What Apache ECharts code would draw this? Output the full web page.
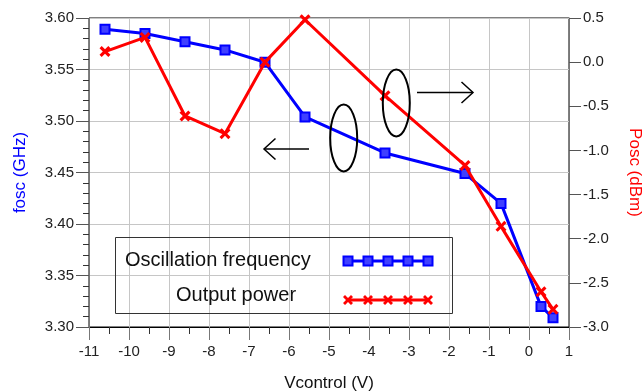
<!DOCTYPE html>
<html>
<head>
<meta charset="utf-8">
<script src="https://cdn.jsdelivr.net/npm/echarts@6/dist/echarts.min.js"></script>
<style>
  html, body { margin: 0; padding: 0; background: #fff; }
  #chart { width: 643px; height: 391px; }
</style>
</head>
<body>
<div id="chart"></div>
<script>
// control voltage (V)
const vcontrol = [-10.6, -9.6, -8.6, -7.6, -6.6, -5.6, -3.6, -1.6, -0.7, 0.3, 0.6];
// oscillation frequency (GHz)
const fosc = [3.589, 3.585, 3.577, 3.569, 3.557, 3.504, 3.469, 3.449, 3.420, 3.320, 3.309];
// output power (dBm)
const posc = [0.12, 0.28, -0.61, -0.81, 0.0, 0.48, -0.38, -1.17, -1.86, -2.60, -2.80];

const legendNames = ['Oscillation frequency', 'Output power'];

const FONT = '"Liberation Sans", Arial, sans-serif';
const BLUE = '#0000ff';
const RED = '#ff0000';
const GRIDC = '#c6c6c6';

// bold X marker
const crossPath = 'path://M2,0L5,3L8,0L10,2L7,5L10,8L8,10L5,7L2,10L0,8L3,5L0,2Z';

const chart = echarts.init(document.getElementById('chart'));

// legend sample markers (drawn as graphics, text left / sample right)
function legendSample(y, color, kind) {
  const els = [{
    type: 'line', shape: { x1: 348, y1: y, x2: 428, y2: y },
    style: { stroke: color, lineWidth: 3 }
  }];
  for (let i = 0; i < 5; i++) {
    const cx = 348 + i * 20;
    if (kind === 'rect') {
      els.push({ type: 'rect', shape: { x: cx - 4.5, y: y - 4.5, width: 9, height: 9 },
        style: { fill: '#4040ff', stroke: color, lineWidth: 2 } });
    } else {
      els.push({ type: 'polygon', shape: { points: [
          [cx - 3, y - 5], [cx, y - 2], [cx + 3, y - 5], [cx + 5, y - 3], [cx + 2, y],
          [cx + 5, y + 3], [cx + 3, y + 5], [cx, y + 2], [cx - 3, y + 5], [cx - 5, y + 3],
          [cx - 2, y], [cx - 5, y - 3]] },
        style: { fill: color } });
    }
  }
  return els;
}

const options = {
  animation: false,
  textStyle: { fontFamily: FONT },
  grid: {
    left: 89, right: 74, top: 18, bottom: 64,
    outerBoundsMode: 'none',
    show: true, borderColor: '#000', borderWidth: 1
  },
  xAxis: {
    type: 'value',
    min: -11, max: 1, interval: 1,
    name: 'Vcontrol (V)', nameLocation: 'middle', nameGap: 48,
    nameTextStyle: { fontSize: 17, color: '#111', fontFamily: FONT },
    axisLine: { onZero: false, lineStyle: { color: '#000', width: 1 } },
    axisTick: { show: true, length: 13, lineStyle: { color: '#777' } },
    minorTick: { show: true, splitNumber: 2, length: 7, lineStyle: { color: '#333' } },
    axisLabel: { fontSize: 15, color: '#222', margin: 17, fontFamily: FONT },
    splitLine: { show: true, lineStyle: { color: GRIDC, width: 1 } }
  },
  yAxis: [
    {
      type: 'value',
      min: 3.3, max: 3.6, interval: 0.05,
      name: 'fosc (GHz)', nameLocation: 'middle', nameRotate: 90, nameGap: 60,
      nameTextStyle: { fontSize: 17, color: BLUE, fontFamily: FONT },
      axisLine: { show: true, onZero: false, lineStyle: { color: '#777', width: 1 } },
      axisTick: { show: true, length: 13, lineStyle: { color: '#555' } },
      minorTick: { show: true, splitNumber: 5, length: 6, lineStyle: { color: '#333' } },
      axisLabel: { fontSize: 15, color: '#222', margin: 15, fontFamily: FONT,
        formatter: v => v.toFixed(2) },
      splitLine: { show: true, lineStyle: { color: GRIDC, width: 1 } }
    },
    {
      type: 'value',
      min: -3, max: 0.5, interval: 0.5,
      name: 'Posc (dBm)', nameLocation: 'middle', nameRotate: -90, nameGap: 57,
      nameTextStyle: { fontSize: 17, color: RED, fontFamily: FONT },
      axisLine: { show: true, onZero: false, lineStyle: { color: '#777', width: 1 } },
      axisTick: { show: true, length: 12, lineStyle: { color: '#555' } },
      axisLabel: { fontSize: 15, color: '#222', margin: 14, fontFamily: FONT,
        formatter: v => v.toFixed(1) },
      splitLine: { show: false }
    }
  ],
  series: [
    {
      name: legendNames[0],
      type: 'line',
      yAxisIndex: 0,
      data: vcontrol.map((v, i) => [v, fosc[i]]),
      symbol: 'rect',
      symbolSize: 9,
      lineStyle: { color: BLUE, width: 3 },
      itemStyle: { color: '#4040ff', borderColor: BLUE, borderWidth: 2 },
      z: 3
    },
    {
      name: legendNames[1],
      type: 'line',
      yAxisIndex: 1,
      data: vcontrol.map((v, i) => [v, posc[i]]),
      symbol: crossPath,
      symbolSize: 11,
      lineStyle: { color: RED, width: 3 },
      itemStyle: { color: RED, borderWidth: 0 },
      z: 4
    }
  ],
  graphic: [
    // legend box
    { type: 'rect', shape: { x: 115.5, y: 237.5, width: 337, height: 76 },
      style: { fill: 'none', stroke: '#333', lineWidth: 1 }, z: 10 },
    { type: 'text', x: 125, y: 260, z: 10,
      style: { text: legendNames[0], fontSize: 20, fontFamily: FONT, fill: '#111',
        verticalAlign: 'middle' } },
    { type: 'text', x: 176, y: 295, z: 10,
      style: { text: legendNames[1], fontSize: 20, fontFamily: FONT, fill: '#111',
        verticalAlign: 'middle' } },
    ...legendSample(261, BLUE, 'rect').map(e => Object.assign(e, { z: 10 })),
    ...legendSample(300, RED, 'cross').map(e => Object.assign(e, { z: 10 })),
    // annotation: ellipse + arrow pointing to the left axis
    { type: 'ellipse', shape: { cx: 343.7, cy: 138, rx: 13.5, ry: 33.5 },
      style: { fill: 'none', stroke: '#000', lineWidth: 2 }, z: 10 },
    { type: 'line', shape: { x1: 264, y1: 149, x2: 309, y2: 149 },
      style: { stroke: '#000', lineWidth: 1.5 }, z: 10 },
    { type: 'polyline', shape: { points: [[275.5, 138.5], [264, 149], [275.5, 159.5]] },
      style: { fill: 'none', stroke: '#000', lineWidth: 1.5 }, z: 10 },
    // annotation: ellipse + arrow pointing to the right axis
    { type: 'ellipse', shape: { cx: 396.3, cy: 103, rx: 13.5, ry: 33.5 },
      style: { fill: 'none', stroke: '#000', lineWidth: 2 }, z: 10 },
    { type: 'line', shape: { x1: 417, y1: 92.5, x2: 473, y2: 92.5 },
      style: { stroke: '#000', lineWidth: 1.5 }, z: 10 },
    { type: 'polyline', shape: { points: [[461.5, 82], [473, 92.5], [461.5, 103]] },
      style: { fill: 'none', stroke: '#000', lineWidth: 1.5 }, z: 10 }
  ]
};

chart.setOption(options);
</script>
</body>
</html>
